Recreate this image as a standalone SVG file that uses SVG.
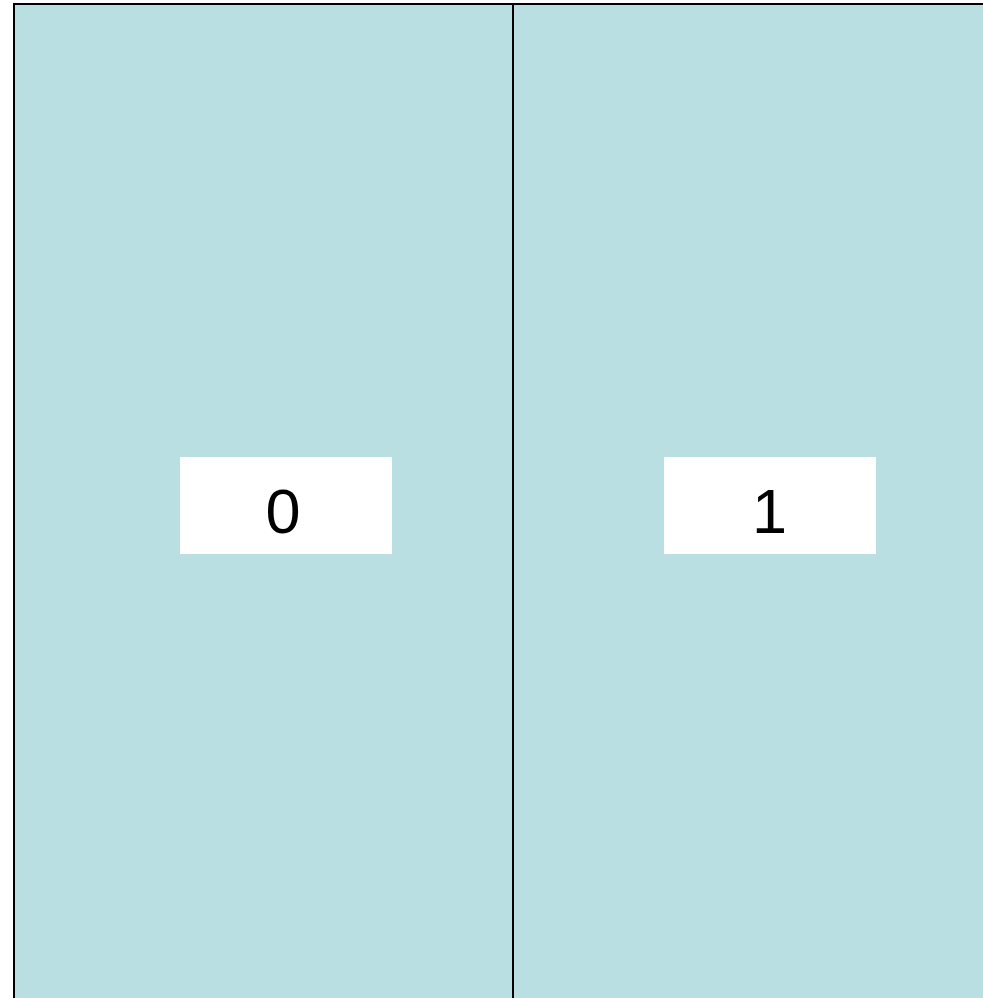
<svg xmlns="http://www.w3.org/2000/svg" width="983" height="998" viewBox="0 0 983 998">
<style>
.cell{fill:#badfe2;stroke:#000;stroke-width:2}
.lab{fill:#fff}
.t{font-family:"Liberation Sans","Noto Sans CJK JP",sans-serif;font-size:63px;fill:#000;text-anchor:middle}
</style>
<rect width="983" height="998" fill="#fff"/>
<g id="cell0">
<rect class="cell" x="14" y="4" width="499" height="1010"/>
<rect class="lab" x="180" y="457" width="212" height="97"/>
<text class="t" x="283" y="533">0</text>
</g>
<g id="cell1">
<rect class="cell" x="513" y="4" width="490" height="1010"/>
<rect class="lab" x="664" y="457" width="212" height="97"/>
<text class="t" x="769.5" y="533">1</text>
</g>
<g id="connectors"/>
</svg>
